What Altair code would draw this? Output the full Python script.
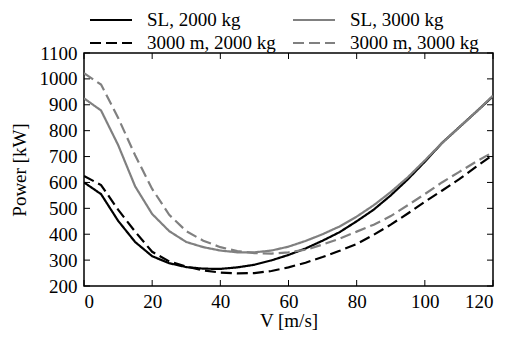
import altair as alt
import pandas as pd

# ---- data ----
V = [0, 5, 10, 15, 20, 25, 30, 35, 40, 45, 50, 55, 60, 65, 70, 75, 80, 85, 90, 95, 100, 105, 110, 115, 120]
sl_2000 = [600, 555, 452, 370, 315, 288, 273, 267, 266, 272, 282, 299, 320, 345, 375, 408, 450, 495, 550, 612, 680, 752, 812, 872, 933]
sl_3000 = [925, 878, 745, 585, 478, 412, 370, 350, 337, 330, 330, 337, 352, 374, 400, 430, 468, 512, 563, 620, 685, 752, 812, 872, 935]
alt_2000 = [625, 590, 495, 410, 332, 295, 275, 260, 252, 249, 250, 258, 272, 290, 312, 336, 362, 398, 437, 480, 525, 568, 612, 660, 707]
alt_3000 = [1022, 978, 850, 705, 575, 475, 412, 375, 350, 335, 327, 325, 330, 340, 360, 383, 410, 437, 470, 512, 555, 600, 640, 680, 717]

series_names = ["SL, 2000 kg", "SL, 3000 kg", "3000 m, 2000 kg", "3000 m, 3000 kg"]
series_values = [sl_2000, sl_3000, alt_2000, alt_3000]
series_colors = ["#000000", "#808080", "#000000", "#808080"]
series_dash = [[1, 0], [1, 0], [11, 5], [11, 5]]

x_ticks = [0, 20, 40, 60, 80, 100, 120]
y_ticks = [200, 300, 400, 500, 600, 700, 800, 900, 1000, 1100]

# ---- build table ----
rows = []
for name, vals in zip(series_names, series_values):
    for v, p in zip(V, vals):
        rows.append({"V": v, "P": p, "series": name})
df = pd.DataFrame(rows)
xt = pd.DataFrame({"t": x_ticks})
yt = pd.DataFrame({"t": y_ticks})

W, H = 409, 233
FONT = "Liberation Serif"
TL = 6

xscale = alt.Scale(domain=[0, 120], nice=False, zero=False)
yscale = alt.Scale(domain=[200, 1100], nice=False, zero=False)
xaxis = alt.Axis(values=x_ticks, title="V [m/s]", format="d", ticks=False, tickSize=0, domain=False,
                 grid=False, labelPadding=6, titlePadding=0)
yaxis = alt.Axis(values=y_ticks, title="Power [kW]", format="d", ticks=False, tickSize=0, domain=False,
                 grid=False, labelPadding=7, titlePadding=10)

leg = alt.Legend(
    title=None, orient="none", legendX=15, legendY=-45, columns=2, direction="horizontal",
    symbolType="M-2,0H2", symbolSize=441, symbolStrokeWidth=2.2,
    labelFont=FONT, labelFontSize=19, labelColor="black", labelOffset=24,
    columnPadding=12, rowPadding=1, padding=0,
)

lines = alt.Chart(df).mark_line(strokeWidth=2.2, clip=True).encode(
    x=alt.X("V:Q", scale=xscale, axis=xaxis),
    y=alt.Y("P:Q", scale=yscale, axis=yaxis),
    color=alt.Color("series:N", scale=alt.Scale(domain=series_names, range=series_colors), legend=leg),
    strokeDash=alt.StrokeDash("series:N", scale=alt.Scale(domain=series_names, range=series_dash), legend=leg),
)

tick_b = alt.Chart(xt).mark_rule(color="black", strokeWidth=1).encode(
    x=alt.X("t:Q", scale=xscale, axis=xaxis), y=alt.value(H), y2=alt.value(H - TL))
tick_t = alt.Chart(xt).mark_rule(color="black", strokeWidth=1).encode(
    x=alt.X("t:Q", scale=xscale, axis=xaxis), y=alt.value(0), y2=alt.value(TL))
tick_l = alt.Chart(yt).mark_rule(color="black", strokeWidth=1).encode(
    y=alt.Y("t:Q", scale=yscale, axis=yaxis), x=alt.value(0), x2=alt.value(TL))
tick_r = alt.Chart(yt).mark_rule(color="black", strokeWidth=1).encode(
    y=alt.Y("t:Q", scale=yscale, axis=yaxis), x=alt.value(W), x2=alt.value(W - TL))

chart = alt.layer(lines, tick_b, tick_t, tick_l, tick_r).properties(
    width=W, height=H,
    autosize=alt.AutoSizeParams(type="none"),
    padding={"left": 76, "top": 45, "right": 14, "bottom": 46},
).configure_view(
    stroke="black", strokeWidth=1.5
).configure_axis(
    labelFont=FONT, titleFont=FONT, labelFontSize=19, titleFontSize=19,
    labelColor="black", titleColor="black", titleFontWeight="normal",
)

chart.save("out.html", embed_options={"renderer": "svg", "actions": False})
